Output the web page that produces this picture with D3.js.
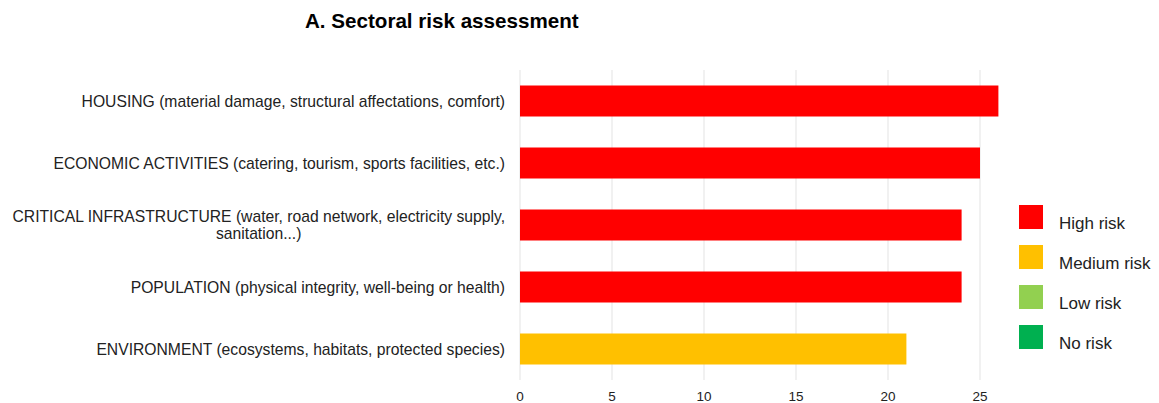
<!DOCTYPE html>
<html><head><meta charset="utf-8">
<script src="https://cdn.jsdelivr.net/npm/d3@7"></script>
<style>body{margin:0;background:#fff;}text{font-family:"Liberation Sans",Arial,sans-serif;}</style>
</head><body>
<svg id="c" width="1159" height="403"></svg>
<script>
const categories = [
  ["HOUSING (material damage, structural affectations, comfort)"],
  ["ECONOMIC ACTIVITIES (catering, tourism, sports facilities, etc.)"],
  ["CRITICAL INFRASTRUCTURE (water, road network, electricity supply,", "sanitation...)"],
  ["POPULATION (physical integrity, well-being or health)"],
  ["ENVIRONMENT (ecosystems, habitats, protected species)"]
];
const values = [26, 25, 24, 24, 21];
const riskLevel = ["High risk", "High risk", "High risk", "High risk", "Medium risk"];
const legendLabels = ["High risk", "Medium risk", "Low risk", "No risk"];
const legendColors = ["#ff0000", "#ffc000", "#92d050", "#00b050"];
const xTicks = [0, 5, 10, 15, 20, 25];
const title = "A. Sectoral risk assessment";

const svg = d3.select("#c");
const color = d3.scaleOrdinal().domain(legendLabels).range(legendColors);
const x = d3.scaleLinear().domain([0, 25]).range([520, 980]);
const y = d3.scaleBand().domain(d3.range(categories.length)).range([70, 380]).paddingInner(0.5).paddingOuter(0.25);

svg.append("text").attr("x", 305).attr("y", 28).attr("font-size", 20.6).attr("font-weight", "bold")
  .attr("fill", "#000").text(title);

// grid
svg.append("g").selectAll("line").data(xTicks).join("line")
  .attr("x1", d => x(d)).attr("x2", d => x(d)).attr("y1", 70).attr("y2", 380)
  .attr("stroke", "#e3e3e3").attr("stroke-width", 1);

// bars
svg.append("g").selectAll("rect").data(values).join("rect")
  .attr("x", x(0)).attr("y", (d, i) => y(i)).attr("width", d => x(d) - x(0))
  .attr("height", y.bandwidth()).attr("fill", (d, i) => color(riskLevel[i]));

// tick labels
svg.append("g").selectAll("text").data(xTicks).join("text")
  .attr("x", d => x(d)).attr("y", 401).attr("text-anchor", "middle")
  .attr("font-size", 13.5).attr("fill", "#222").text(d => d);

// category labels
const fs = 15.7;
const lab = svg.append("g");
categories.forEach((lines, i) => {
  const cy = y(i) + y.bandwidth() / 2;
  const lh = 16.5;
  const n = lines.length;
  const first = lab.append("text").attr("font-size", fs).attr("fill", "#222")
    .attr("x", 505).attr("text-anchor", "end")
    .attr("y", cy - (n - 1) * lh / 2 + 5.5).text(lines[0]);
  if (n > 1) {
    const w = first.node().getComputedTextLength();
    const center = 505 - w / 2;
    lines.slice(1).forEach((ln, j) => {
      lab.append("text").attr("font-size", fs).attr("fill", "#222")
        .attr("x", center).attr("text-anchor", "middle")
        .attr("y", cy - (n - 1) * lh / 2 + (j + 1) * lh + 5.5).text(ln);
    });
  }
});

// legend
const lg = svg.append("g").selectAll("g").data(legendLabels).join("g")
  .attr("transform", (d, i) => `translate(1019,${205 + i * 40})`);
lg.append("rect").attr("width", 24).attr("height", 24).attr("fill", d => color(d));
lg.append("text").attr("x", 40).attr("y", 23.5).attr("font-size", 17).attr("fill", "#222").text(d => d);
</script>
</body></html>
